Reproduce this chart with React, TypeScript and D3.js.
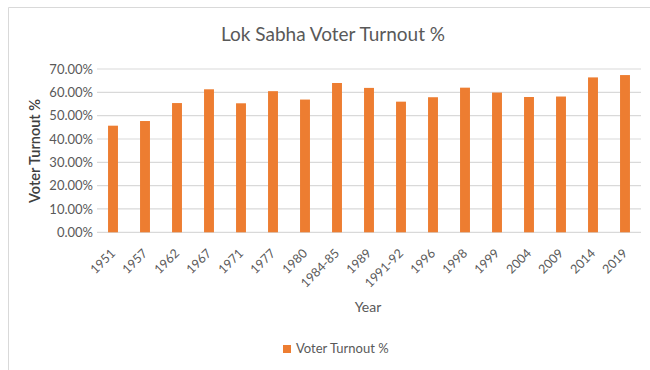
import React from "react";
import * as d3 from "d3";

const years = ["1951","1957","1962","1967","1971","1977","1980","1984-85","1989","1991-92","1996","1998","1999","2004","2009","2014","2019"];
const turnout = [45.7, 47.7, 55.4, 61.3, 55.3, 60.5, 56.9, 64.0, 61.9, 56.0, 57.9, 62.0, 59.9, 58.0, 58.2, 66.4, 67.4];
const yTicks = [0, 10, 20, 30, 40, 50, 60, 70];
const title = "Lok Sabha Voter Turnout %";
const yTitle = "Voter Turnout %";
const xTitle = "Year";
const seriesName = "Voter Turnout %";

const W = 650, H = 370;
const left = 97, right = 641, top = 69, bottom = 232.3;
const FONT = "Lato, 'Open Sans', sans-serif";
const TEXT = "#595959";

export default function App() {
  const x = d3.scaleBand<string>().domain(years).range([left, right]).paddingInner(0.69).paddingOuter(0.345);
  const y = d3.scaleLinear().domain([0, 70]).range([bottom, top]);
  return (
    <svg width={W} height={H} style={{ position: "absolute", left: 0, top: 0 }} fontFamily={FONT}>
      <rect x={0} y={0} width={W} height={H} fill="#fff" />
      <line x1={8.5} y1={7.5} x2={W} y2={7.5} stroke="#d9d9d9" />
      <line x1={8.5} y1={7.5} x2={8.5} y2={H} stroke="#d9d9d9" />
      <text x={333} y={41} textAnchor="middle" fontSize={19} fill={TEXT}>{title}</text>
      {yTicks.map((t) => (
        <g key={t}>
          <line x1={left} x2={right} y1={y(t)} y2={y(t)} stroke="#d9d9d9" strokeWidth={1.2} />
          <text x={93} y={y(t)} dy="0.35em" textAnchor="end" fontSize={13} fill={TEXT}>
            {d3.format(".2f")(t) + "%"}
          </text>
        </g>
      ))}
      {years.map((yr, i) => (
        <rect key={yr} x={x(yr)} y={y(turnout[i])} width={x.bandwidth()} height={bottom - y(turnout[i])} fill="#ED7D31" />
      ))}
      {years.map((yr) => {
        const cx = (x(yr) as number) + x.bandwidth() / 2;
        const cy = 251;
        return (
          <text key={yr} x={cx} y={cy} textAnchor="end" fontSize={12.5} fill={TEXT} dy="0.35em"
            transform={`rotate(-45 ${cx} ${cy})`}>{yr}</text>
        );
      })}
      <text transform={`translate(40,151) rotate(-90)`} textAnchor="middle" fontSize={14.5} fontWeight={600} fill="#404040">{yTitle}</text>
      <text x={368} y={312} textAnchor="middle" fontSize={14} fill={TEXT}>{xTitle}</text>
      <rect x={283} y={345} width={8} height={8} fill="#ED7D31" />
      <text x={296} y={353} fontSize={13} fill={TEXT}>{seriesName}</text>
    </svg>
  );
}
